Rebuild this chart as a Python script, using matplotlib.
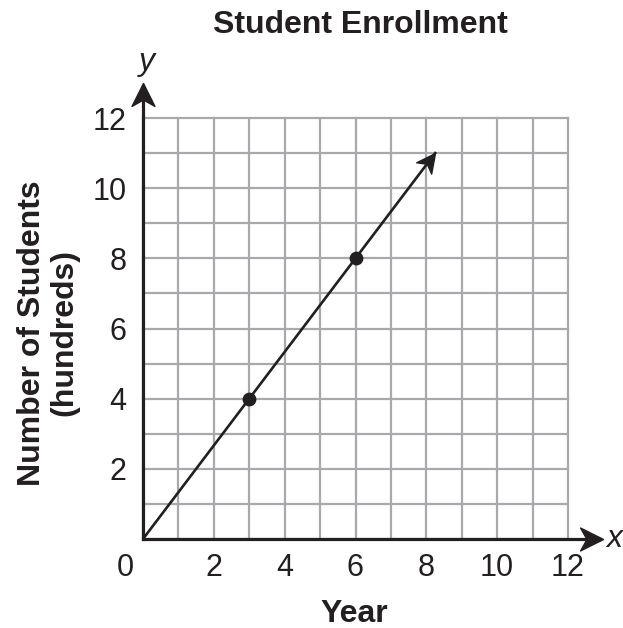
import numpy as np
import matplotlib.pyplot as plt
from matplotlib.path import Path
from matplotlib.markers import MarkerStyle
from matplotlib.transforms import ScaledTranslation, Affine2D

plt.rcParams['font.family'] = ['Liberation Sans', 'DejaVu Sans']

# data
years = [3, 6]
students = [4, 8]
line_start = (0, 0)
line_end = (8.25, 11)
x_ticks = [0, 2, 4, 6, 8, 10, 12]
y_ticks = [2, 4, 6, 8, 10, 12]

ink = '#231f20'
grid_col = '#a7a9ac'

fig = plt.figure(figsize=(6.23, 6.28), dpi=100)
ax = fig.add_axes([143 / 623, 1 - 539 / 628, 425 / 623, 421 / 628])
ax.set_xlim(0, 12)
ax.set_ylim(0, 12)

ax.set_xticks(range(13), minor=True)
ax.set_yticks(range(13), minor=True)
ax.set_xticks(x_ticks)
ax.set_yticks(y_ticks)
ax.grid(True, which='both', color=grid_col, linewidth=1.6)
for gl in ax.get_xgridlines() + ax.get_ygridlines():
    gl.set_clip_on(False)
ax.set_axisbelow(True)
for s in ax.spines.values():
    s.set_visible(False)
ax.tick_params(which='both', length=0, labelsize=22, colors=ink)
ax.tick_params(axis='x', pad=10)
ax.tick_params(axis='y', pad=12)

# the 0 label sits left of the y axis
lbl0 = ax.get_xticklabels()[0]
lbl0.set_transform(lbl0.get_transform() + ScaledTranslation(-0.18, 0, fig.dpi_scale_trans))

# concave arrowhead, tip at the marker position, pointing along +x
head = Path([(0, 0), (-1, 0.5), (-0.72, 0), (-1, -0.5), (0, 0)],
            [Path.MOVETO, Path.LINETO, Path.LINETO, Path.LINETO, Path.CLOSEPOLY])


def arrow_head(x, y, angle, size):
    m = MarkerStyle(head, transform=Affine2D().rotate_deg(angle))
    ax.plot([x], [y], marker=m, markersize=size, color=ink, clip_on=False, zorder=6)


# axes with arrows
ax.plot([0, 12.9], [0, 0], color=ink, lw=2.3, clip_on=False, zorder=4)
ax.plot([0, 0], [0, 12.9], color=ink, lw=2.3, clip_on=False, zorder=4)
arrow_head(13.0, 0, 0, 33)
arrow_head(0, 13.0, 90, 33)
fig.text(0.999, 1 - 539 / 628, 'x', fontsize=23, style='italic', va='center', ha='right', color=ink)
ax.text(0.1, 13.6, 'y', fontsize=23, style='italic', va='center', ha='center', color=ink)

# data line with arrow
ax.plot([line_start[0], line_end[0]], [line_start[1], line_end[1]], color=ink, lw=1.9, zorder=5)
p0 = ax.transData.transform(line_start)
p1 = ax.transData.transform(line_end)
ang = np.degrees(np.arctan2(p1[1] - p0[1], p1[0] - p0[0]))
arrow_head(line_end[0], line_end[1], ang, 27)
ax.scatter(years, students, s=80, color=ink, zorder=6)

fig.text(0.579, 0.96, 'Student Enrollment', fontsize=23, fontweight='bold',
         ha='center', va='center', color=ink)
fig.text(0.568, 0.022, 'Year', fontsize=23, fontweight='bold',
         ha='center', va='center', color=ink)
fig.text(0.077, 0.47, 'Number of Students\n(hundreds)', fontsize=23, fontweight='bold',
         ha='center', va='center', rotation=90, linespacing=1.1, color=ink)

fig.savefig('out.png', dpi=100)
